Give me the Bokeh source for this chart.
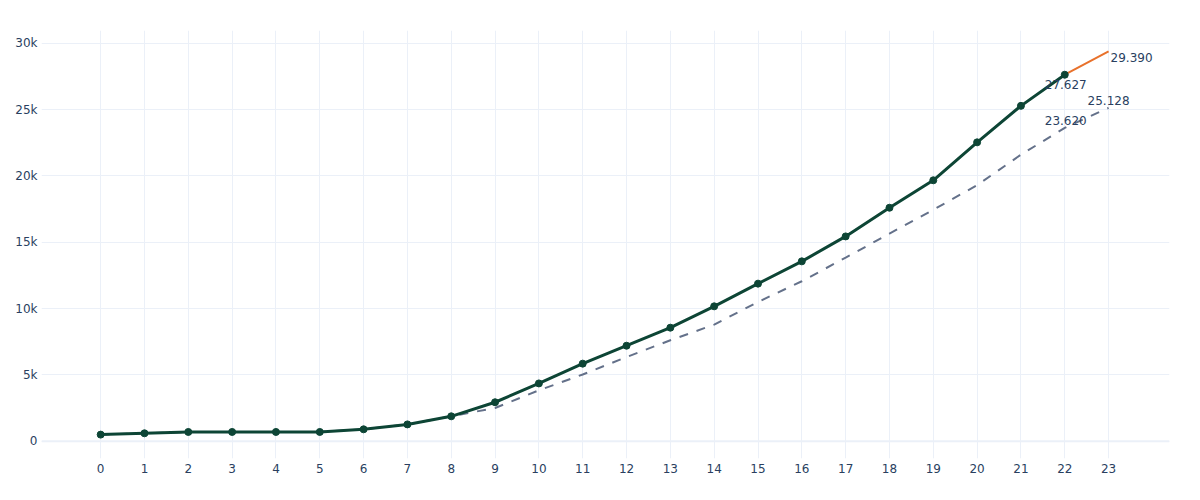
from bokeh.plotting import figure
from bokeh.models import Range1d, FixedTicker, Span
from bokeh.embed import file_html
from bokeh.resources import INLINE
from bokeh.core.properties import value

# ---- data ----
hours_actual = list(range(23))
actual = [500, 600, 700, 700, 700, 700, 900, 1270, 1880, 2940, 4360, 5850,
          7200, 8560, 10170, 11880, 13560, 15440, 17600, 19670, 22530, 25280, 27627]

hours_base = list(range(24))
baseline = [500, 600, 700, 700, 700, 700, 900, 1270, 1880, 2510, 3840, 5030,
            6350, 7610, 8790, 10500, 12060, 13840, 15650, 17450, 19300, 21600, 23620, 25128]

hours_forecast = [22, 23]
forecast = [27627, 29390]

x_ticks = list(range(24))
y_ticks = [0, 5000, 10000, 15000, 20000, 25000, 30000]
y_tick_labels = ["0", "5k", "10k", "15k", "20k", "25k", "30k"]

FONT = "DejaVu Sans"
TXT = "#2a3f5f"
GRID = "#EBF0F8"

p = figure(width=1184, height=484, output_backend="svg", toolbar_location=None,
           x_range=Range1d(-1.35, 24.39), y_range=Range1d(-1300, 30960),
           min_border_left=41, min_border_right=15, min_border_top=30, min_border_bottom=26)
p.outline_line_color = None
p.background_fill_color = "white"
p.border_fill_color = "white"

for ax in (p.xaxis, p.yaxis):
    ax.axis_line_color = None
    ax.major_tick_line_color = None
    ax.minor_tick_line_color = None
    ax.major_label_text_font = FONT
    ax.major_label_text_font_size = "12px"
    ax.major_label_text_color = TXT
p.xaxis.ticker = FixedTicker(ticks=x_ticks)
p.yaxis.ticker = FixedTicker(ticks=y_ticks)
p.yaxis.major_label_overrides = {t: l for t, l in zip(y_ticks, y_tick_labels)}
p.xaxis.major_label_standoff = -1
p.yaxis.major_label_standoff = -2

p.xgrid.grid_line_color = GRID
p.ygrid.grid_line_color = GRID
p.xgrid.grid_line_width = 1
p.ygrid.grid_line_width = 1

p.add_layout(Span(location=0, dimension="width", line_color=GRID, line_width=2))

# baseline dashed
p.line(hours_base, baseline, line_color="#64718a", line_width=2, line_dash="9 9")
# forecast orange
p.line(hours_forecast, forecast, line_color="#e8712b", line_width=2)
# actual
p.line(hours_actual, actual, line_color="#0d4535", line_width=3)
p.scatter(hours_actual, actual, size=7, fill_color="#0d4535", line_color="#0d4535")

# labels
def lab(x, y, t, align, xo, yo):
    p.text(x=[x], y=[y], text=[t], text_font=value(FONT), text_font_size="12px",
           text_color=TXT, text_align=align, text_baseline="alphabetic",
           x_offset=xo, y_offset=yo)

lab(hours_actual[-1], actual[-1], f"{actual[-1]:,}".replace(",", "."), "center", 1, 10)
lab(hours_base[-2], baseline[-2], f"{baseline[-2]:,}".replace(",", "."), "center", 1, -7)
lab(hours_base[-1], baseline[-1], f"{baseline[-1]:,}".replace(",", "."), "center", 0, -7)
lab(hours_forecast[-1], forecast[-1], f"{forecast[-1]:,}".replace(",", "."), "left", 2, 6)

open("out.html", "w").write(file_html(p, INLINE))
